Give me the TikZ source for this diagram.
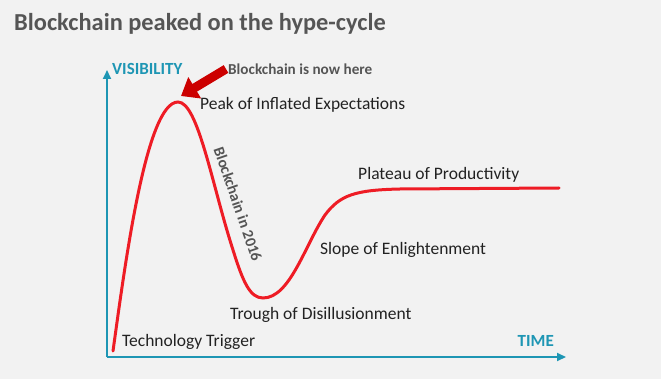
\documentclass[tikz,border=0pt]{standalone}
\usepackage{fontspec}
\setmainfont{Carlito}
\usetikzlibrary{arrows.meta}
\definecolor{bg}{HTML}{F2F2F2}
\definecolor{teal}{HTML}{1E96B4}
\definecolor{titlegray}{HTML}{555555}
\definecolor{labelc}{HTML}{222222}
\definecolor{curvered}{HTML}{EE1C25}
\definecolor{arrowred}{HTML}{CC0000}
\tikzset{
  axis/.style={draw=teal, line width=2.2pt, -{Triangle[length=9pt,width=8pt]}},
  axislabel/.style={text=teal, font=\bfseries\fontsize{17}{20}\selectfont, inner sep=0pt},
  phase/.style={text=labelc, font=\fontsize{17.5}{20}\selectfont, inner sep=0pt, anchor=west},
  hype/.style={draw=curvered, line width=3pt, line cap=round},
}
\begin{document}
\begin{tikzpicture}[x=1pt, y=-1pt]
\fill[bg] (0,0) rectangle (661,379);
\useasboundingbox (0,0) rectangle (661,379);
\node[text=titlegray, font=\bfseries\fontsize{24.4}{28}\selectfont, anchor=west, inner sep=0pt] (title) at (14,24) {Blockchain peaked on the hype-cycle};
% axes
\coordinate (origin) at (107,357);
\coordinate (ytop) at (107,70);
\coordinate (xend) at (566,357);
\draw[axis] (origin) -- (ytop);
\draw[axis] (origin) -- (xend);
\node[axislabel, anchor=west] (vis) at (112,69) {VISIBILITY};
\node[axislabel, anchor=east] (time) at (554,341) {TIME};
% hype curve
\coordinate (trigger) at (113,351);
\coordinate (peak) at (178,102);
\coordinate (trough) at (263,298);
\coordinate (plateauend) at (559,188);
\draw[hype] (trigger) .. controls (125,265) and (146,102) .. (peak)
  .. controls (198,102) and (212,185) .. (233,250)
  .. controls (243,282) and (250,298) .. (trough)
  .. controls (290,298) and (305,245) .. (325,215)
  .. controls (340,195) and (355,190) .. (400,189)
  -- (plateauend);
% red arrow
\coordinate (atail) at (226,69);
\coordinate (ahead) at (181,96);
\draw[arrowred, line width=9pt, -{Triangle[length=16pt,width=24pt]}] (atail) -- (ahead);
\node[text=titlegray, font=\bfseries\fontsize{15.2}{18}\selectfont, anchor=west, inner sep=0pt] (now) at (228,69) {Blockchain is now here};
% labels
\node[phase] (peaklbl) at (200,105) {Peak of Inflated Expectations};
\node[text=titlegray, font=\bfseries\fontsize{15.5}{18}\selectfont, inner sep=0pt, rotate=-71] (b2016) at (238,204) {Blockchain in 2016};
\node[phase] (plateau) at (358,175) {Plateau of Productivity};
\node[phase] (slope) at (320,250) {Slope of Enlightenment};
\node[phase] (troughlbl) at (230,315) {Trough of Disillusionment};
\node[phase] (triggerlbl) at (122,342) {Technology Trigger};
\end{tikzpicture}
\end{document}
